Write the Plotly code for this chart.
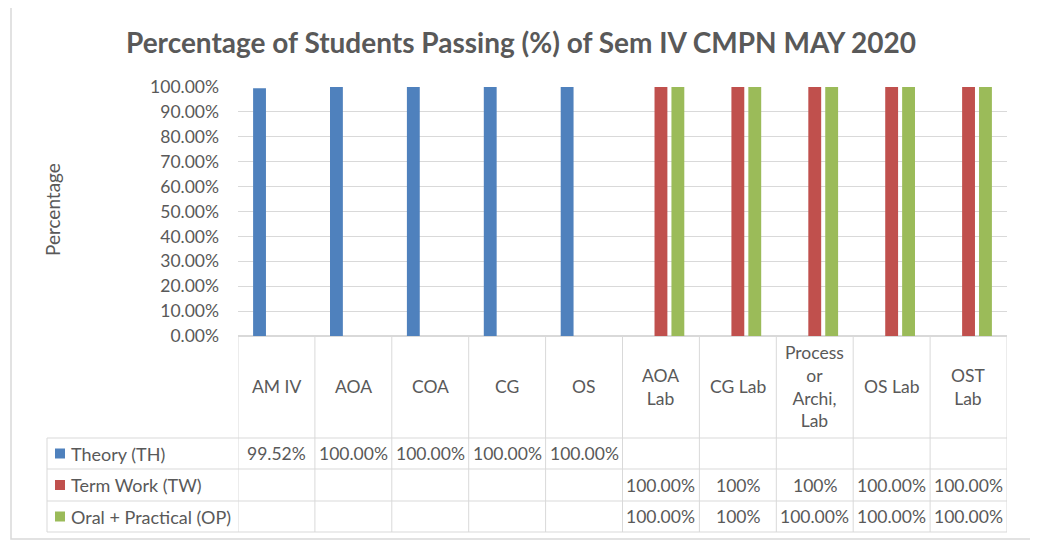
import plotly.graph_objects as go

# ---------------- data ----------------
categories = ["AM IV", "AOA", "COA", "CG", "OS",
              "AOA Lab", "CG Lab", "Process or Archi, Lab", "OS Lab", "OST Lab"]
header_labels = ["AM IV", "AOA", "COA", "CG", "OS",
                 "AOA<br>Lab", "CG Lab", "Process<br>or<br>Archi,<br>Lab", "OS Lab", "OST<br>Lab"]
series_names = ["Theory (TH)", "Term Work (TW)", "Oral + Practical (OP)"]
theory = [0.9952, 1.0, 1.0, 1.0, 1.0, None, None, None, None, None]
term_work = [None, None, None, None, None, 1.0, 1.0, 1.0, 1.0, 1.0]
oral_practical = [None, None, None, None, None, 1.0, 1.0, 1.0, 1.0, 1.0]
theory_text = ["99.52%", "100.00%", "100.00%", "100.00%", "100.00%", "", "", "", "", ""]
term_work_text = ["", "", "", "", "", "100.00%", "100%", "100%", "100.00%", "100.00%"]
oral_practical_text = ["", "", "", "", "", "100.00%", "100%", "100.00%", "100.00%", "100.00%"]
y_ticks = [0, 0.1, 0.2, 0.3, 0.4, 0.5, 0.6, 0.7, 0.8, 0.9, 1.0]

# ---------------- style ----------------
colors = ["#4F81BD", "#C0504D", "#9BBB59"]
text_color = "#595959"
grid_color = "#D9D9D9"
FONT = "Lato"
OFF = 8  # page body margin
W, H = 1038 - OFF, 543 - OFF
# target pixel coordinates are in screen space; convert by subtracting OFF
L, R, T, B = 238 - OFF, 1038 - 1007, 87 - OFF, 543 - 336
plot_w = W - L - R
plot_h = H - T - B


def pxx(px):
    return (px - OFF - L) / plot_w


def pyy(py):
    return (H - B - (py - OFF)) / plot_h


fig = go.Figure()
for name, vals, col in zip(series_names, [theory, term_work, oral_practical], colors):
    fig.add_trace(go.Bar(x=categories, y=vals, name=name, marker_color=col,
                         marker_line_width=0, showlegend=False))

shapes = []
annotations = []
n = len(categories)

header_top, header_bot = 336, 438
row_lines = [438, 469, 501, 532]
table_left = 47
fs = 17.5

for i in range(n + 1):
    shapes.append(dict(type="line", xref="x", yref="paper",
                       x0=i - 0.5, x1=i - 0.5, y0=pyy(header_top), y1=pyy(row_lines[-1]),
                       line=dict(color=grid_color, width=1)))
shapes.append(dict(type="line", xref="paper", yref="paper",
                   x0=pxx(table_left), x1=pxx(table_left), y0=pyy(row_lines[0]), y1=pyy(row_lines[-1]),
                   line=dict(color=grid_color, width=1)))
for ry in row_lines:
    shapes.append(dict(type="line", xref="paper", yref="paper",
                       x0=pxx(table_left), x1=1, y0=pyy(ry), y1=pyy(ry),
                       line=dict(color=grid_color, width=1)))

shapes.append(dict(type="rect", xref="paper", yref="paper",
                   x0=pxx(11), x1=pxx(1031), y0=pyy(5), y1=pyy(539),
                   line=dict(color="#D9D9D9", width=1.5), fillcolor="rgba(0,0,0,0)", layer="below"))

for cat, lab in zip(categories, header_labels):
    annotations.append(dict(x=cat, xref="x", y=pyy((header_top + header_bot) / 2), yref="paper",
                            text=lab, showarrow=False, xanchor="center", yanchor="middle",
                            font=dict(family=FONT, size=fs, color=text_color)))

row_texts = [theory_text, term_work_text, oral_practical_text]
for r in range(3):
    cy = (row_lines[r] + row_lines[r + 1]) / 2
    shapes.append(dict(type="rect", xref="paper", yref="paper",
                       x0=pxx(55), x1=pxx(65), y0=pyy(cy - 5), y1=pyy(cy + 5),
                       fillcolor=colors[r], line=dict(width=0)))
    annotations.append(dict(x=pxx(69), xref="paper", y=pyy(cy), yref="paper",
                            text=series_names[r], showarrow=False, xanchor="left", yanchor="middle",
                            font=dict(family=FONT, size=18, color=text_color)))
    for cat, t in zip(categories, row_texts[r]):
        if t:
            annotations.append(dict(x=cat, xref="x", y=pyy(cy), yref="paper",
                                    text=t, showarrow=False, xanchor="center", yanchor="middle",
                                    font=dict(family=FONT, size=fs, color=text_color)))

annotations.append(dict(x=pxx(52), xref="paper", y=pyy(210), yref="paper", text="Percentage",
                        textangle=-90, showarrow=False, xanchor="center", yanchor="middle",
                        font=dict(family=FONT, size=19, color=text_color)))

fig.update_layout(
    width=W, height=H,
    margin=dict(l=L, r=R, t=T, b=B),
    paper_bgcolor="white", plot_bgcolor="white",
    barmode="group", bargap=0.34, bargroupgap=0.24,
    title=dict(text="<b>Percentage of Students Passing (%) of Sem IV CMPN MAY 2020</b>",
               x=(521 - OFF) / W, xref="container", xanchor="center",
               y=1 - (43 - OFF) / H, yanchor="middle",
               font=dict(family=FONT, size=28, color=text_color)),
    xaxis=dict(showticklabels=False, showgrid=False, showline=False, zeroline=False,
               ticks="", range=[-0.5, n - 0.5]),
    yaxis=dict(range=[0, 1], tickvals=y_ticks, tickformat=".2%", showgrid=True,
               gridcolor=grid_color, gridwidth=1, zeroline=True, zerolinecolor=grid_color,
               showline=False, ticks="", ticklabelstandoff=18,
               tickfont=dict(family=FONT, size=fs, color=text_color)),
    shapes=shapes, annotations=annotations,
    showlegend=False,
)

fig.write_html("out.html")
